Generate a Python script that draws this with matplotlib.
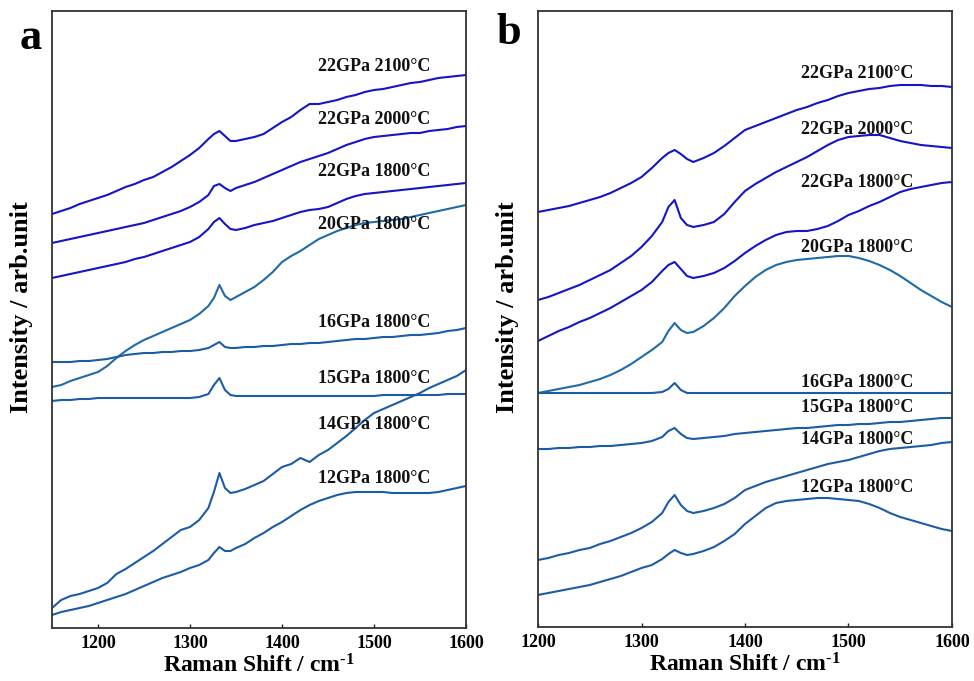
import numpy as np
import matplotlib
matplotlib.use("Agg")
import matplotlib.pyplot as plt

plt.rcParams['font.family'] = ['Liberation Serif', 'DejaVu Serif']
plt.rcParams['font.weight'] = 'bold'
plt.rcParams['mathtext.fontset'] = 'custom'
plt.rcParams['mathtext.rm'] = 'Liberation Serif:bold'
plt.rcParams['mathtext.bf'] = 'Liberation Serif:bold'
plt.rcParams['mathtext.it'] = 'Liberation Serif:bold'

# ---------------- Panel a data ----------------
x_a = [1150, 1160, 1170, 1180, 1190, 1200, 1210, 1220, 1230, 1240, 1250, 1260, 1270, 1280, 1290,
       1300, 1310, 1320, 1326, 1332, 1338, 1344,
       1350, 1360, 1370, 1380, 1390, 1400, 1410, 1420, 1430, 1440, 1450, 1460, 1470, 1480, 1490,
       1500, 1510, 1520, 1530, 1540, 1550, 1560, 1570, 1580, 1590, 1600]

a_22GPa_2100 = [414, 417, 420, 424, 427, 430, 433, 437, 441, 444, 448, 451, 456, 461, 467, 473, 480, 489,
                494, 497, 492, 487,
                487, 489, 491, 494, 500, 506, 511, 518, 524, 524, 526, 528, 531, 533, 536, 538, 539, 541,
                543, 545, 546, 548, 550, 551, 552, 553]
a_22GPa_2000 = [385, 387, 389, 391, 393, 395, 397, 399, 401, 403, 405, 408, 411, 414, 417, 421, 426, 433,
                442, 444, 440, 437,
                440, 443, 446, 450, 454, 458, 462, 466, 469, 472, 475, 479, 483, 486, 489, 491, 492, 493,
                494, 495, 495, 497, 498, 499, 501, 502]
a_22GPa_1800 = [350, 352, 354, 356, 358, 360, 362, 364, 366, 369, 371, 374, 377, 380, 383, 386, 391, 399,
                406, 410, 404, 399,
                398, 400, 403, 405, 407, 410, 413, 416, 418, 419, 421, 425, 429, 432, 434, 435, 436, 437,
                438, 439, 440, 441, 442, 443, 444, 445]
a_20GPa_1800 = [241, 243, 247, 250, 253, 256, 262, 270, 277, 283, 288, 292, 296, 300, 304, 308, 314, 322,
                330, 343, 332, 328,
                331, 336, 341, 348, 356, 366, 372, 377, 383, 389, 393, 397, 400, 403, 405, 406, 407, 408,
                409, 411, 413, 415, 417, 419, 421, 423]
a_16GPa_1800 = [266, 266, 266, 267, 267, 268, 269, 271, 273, 274, 275, 275, 276, 276, 277, 277, 278, 280,
                283, 286, 281, 280,
                280, 281, 281, 282, 282, 283, 284, 284, 285, 285, 286, 287, 288, 289, 289, 290, 291, 291,
                292, 293, 293, 294, 295, 297, 298, 300]
a_15GPa_1800 = [227, 228, 228, 229, 229, 230, 230, 230, 230, 230, 230, 230, 230, 230, 230, 230, 231, 234,
                243, 250, 238, 233,
                232, 232, 232, 232, 232, 232, 232, 232, 232, 232, 232, 232, 232, 232, 232, 232, 233, 233,
                233, 233, 233, 233, 233, 234, 234, 234]
a_14GPa_1800 = [20, 28, 32, 34, 37, 40, 45, 54, 59, 65, 71, 77, 84, 91, 98, 101, 108, 120,
                136, 155, 140, 135,
                136, 139, 143, 147, 154, 161, 164, 170, 166, 173, 178, 185, 192, 200, 208, 215, 219, 223,
                227, 231, 235, 240, 244, 248, 252, 258]
a_12GPa_1800 = [13, 16, 18, 20, 22, 25, 28, 31, 34, 38, 42, 46, 50, 53, 56, 60, 63, 68,
                75, 81, 77, 77,
                80, 84, 90, 95, 101, 106, 112, 118, 123, 127, 130, 133, 135, 136, 136, 136, 136, 135,
                135, 135, 135, 135, 136, 138, 140, 142]

# ---------------- Panel b data ----------------
x_b = [1200, 1210, 1220, 1230, 1240, 1250, 1260, 1270, 1280, 1290, 1300, 1310, 1320,
       1326, 1332, 1338, 1344,
       1350, 1360, 1370, 1380, 1390, 1400, 1410, 1420, 1430, 1440, 1450, 1460, 1470, 1480, 1490,
       1500, 1510, 1520, 1530, 1540, 1550, 1560, 1570, 1580, 1590, 1600]

b_22GPa_2100 = [415, 417, 419, 421, 424, 427, 430, 434, 439, 444, 450, 459, 469,
                474, 477, 473, 468,
                465, 469, 474, 481, 489, 497, 501, 505, 509, 513, 517, 520, 524, 527, 531, 534, 536, 538,
                539, 541, 542, 542, 542, 541, 541, 540]
b_22GPa_2000 = [327, 330, 334, 338, 342, 347, 352, 357, 364, 371, 380, 391, 405,
                420, 427, 409, 402,
                400, 402, 405, 413, 425, 436, 443, 449, 455, 460, 465, 470, 476, 482, 487, 490, 491, 492,
                492, 489, 486, 484, 482, 481, 480, 479]
b_22GPa_1800 = [286, 291, 296, 300, 305, 309, 314, 319, 325, 331, 337, 345, 356,
                362, 365, 358, 351,
                349, 351, 354, 359, 366, 374, 381, 387, 392, 395, 396, 396, 398, 401, 406, 412, 416, 421,
                425, 430, 435, 438, 440, 442, 444, 445]
b_20GPa_1800 = [234, 236, 238, 240, 242, 245, 248, 252, 257, 263, 270, 277, 285,
                296, 304, 297, 294,
                295, 301, 309, 319, 331, 341, 350, 357, 362, 365, 367, 368, 369, 370, 371, 371, 369, 366,
                362, 357, 351, 344, 337, 331, 325, 320]
b_16GPa_1800 = [234, 234, 234, 234, 234, 234, 234, 234, 234, 234, 234, 234, 235,
                238, 244, 237, 234,
                234, 234, 234, 234, 234, 234, 234, 234, 234, 234, 234, 234, 234, 234, 234, 234, 234, 234,
                234, 234, 234, 234, 234, 234, 234, 234]
b_15GPa_1800 = [178, 178, 179, 179, 180, 180, 181, 181, 182, 183, 184, 186, 190,
                196, 199, 193, 189,
                188, 189, 190, 191, 193, 194, 195, 196, 197, 198, 199, 199, 200, 201, 202, 202, 203, 203,
                204, 205, 205, 206, 207, 208, 209, 209]
b_14GPa_1800 = [67, 69, 72, 74, 77, 79, 83, 86, 90, 94, 99, 105, 114,
                125, 132, 122, 116,
                114, 116, 119, 123, 129, 137, 141, 145, 148, 151, 154, 157, 160, 163, 165, 167, 170, 173,
                176, 178, 179, 180, 181, 182, 184, 185]
b_12GPa_1800 = [32, 34, 36, 38, 40, 42, 45, 48, 51, 55, 59, 62, 68,
                73, 77, 74, 72,
                73, 76, 80, 86, 93, 103, 111, 119, 124, 126, 127, 128, 129, 129, 128, 127, 126, 123,
                119, 114, 110, 107, 104, 101, 98, 96]

labels = ['22GPa 2100°C', '22GPa 2000°C', '22GPa 1800°C', '20GPa 1800°C',
          '16GPa 1800°C', '15GPa 1800°C', '14GPa 1800°C', '12GPa 1800°C']
label_y_a = [561, 508, 456, 403, 305, 249, 203, 149]
label_y_b = [554, 497, 445, 380, 245, 220, 188, 139]

DARK = '#1414c8'
TEAL_A = '#1f6aa8'
TEAL = '#1c5ca6'

series_a = [a_22GPa_2100, a_22GPa_2000, a_22GPa_1800, a_20GPa_1800,
            a_16GPa_1800, a_15GPa_1800, a_14GPa_1800, a_12GPa_1800]
series_b = [b_22GPa_2100, b_22GPa_2000, b_22GPa_1800, b_20GPa_1800,
            b_16GPa_1800, b_15GPa_1800, b_14GPa_1800, b_12GPa_1800]
colors_a = [DARK, DARK, DARK, TEAL_A, TEAL, TEAL, TEAL, TEAL]
colors_b = [DARK, DARK, DARK, TEAL_A, TEAL, TEAL, TEAL, TEAL]

fig = plt.figure(figsize=(9.74, 6.81), dpi=100)
ax_a = fig.add_axes([52 / 974, 1 - 628 / 681, 414 / 974, 617 / 681])
ax_b = fig.add_axes([538 / 974, 1 - 627 / 681, 414 / 974, 616 / 681])


def style(ax, xlim, ylim, xticks):
    ax.set_xlim(*xlim)
    ax.set_ylim(*ylim)
    ax.set_xticks(xticks)
    ax.set_yticks([])
    ax.tick_params(axis='x', direction='in', length=3, width=1, top=False,
                   labelsize=13, pad=5, colors='#222222', labelcolor='black')
    for lab in ax.get_xticklabels():
        lab.set_fontweight('bold')
    for sp in ax.spines.values():
        sp.set_linewidth(1.3)
        sp.set_color('#333333')
    ax.set_xlabel(r'Raman Shift / cm$^{\text{-1}}$', fontsize=17, fontweight='bold', labelpad=2)
    ax.set_ylabel('Intensity / arb.unit', fontsize=19, fontweight='bold')
    ax.yaxis.set_label_coords(-0.046, 0.52)


for ys, c in zip(series_a, colors_a):
    ax_a.plot(x_a, ys, color=c, lw=1.5)
for ys, c in zip(series_b, colors_b):
    ax_b.plot(x_b, ys, color=c, lw=1.5)

for lab, yy in zip(labels, label_y_a):
    ax_a.text(1500, yy, lab, ha='center', va='center', fontsize=13, fontweight='bold', color='#111111')
for lab, yy in zip(labels, label_y_b):
    ax_b.text(1508, yy, lab, ha='center', va='center', fontsize=13, fontweight='bold', color='#111111')

style(ax_a, (1150, 1600), (0, 617), [1200, 1300, 1400, 1500, 1600])
style(ax_b, (1200, 1600), (0, 616), [1200, 1300, 1400, 1500, 1600])

fig.text(31 / 974, 1 - 38 / 681, 'a', fontsize=32, fontweight='bold', ha='center', va='center')
fig.text(509 / 974, 1 - 33 / 681, 'b', fontsize=32, fontweight='bold', ha='center', va='center')

fig.savefig('out.png', dpi=100)
